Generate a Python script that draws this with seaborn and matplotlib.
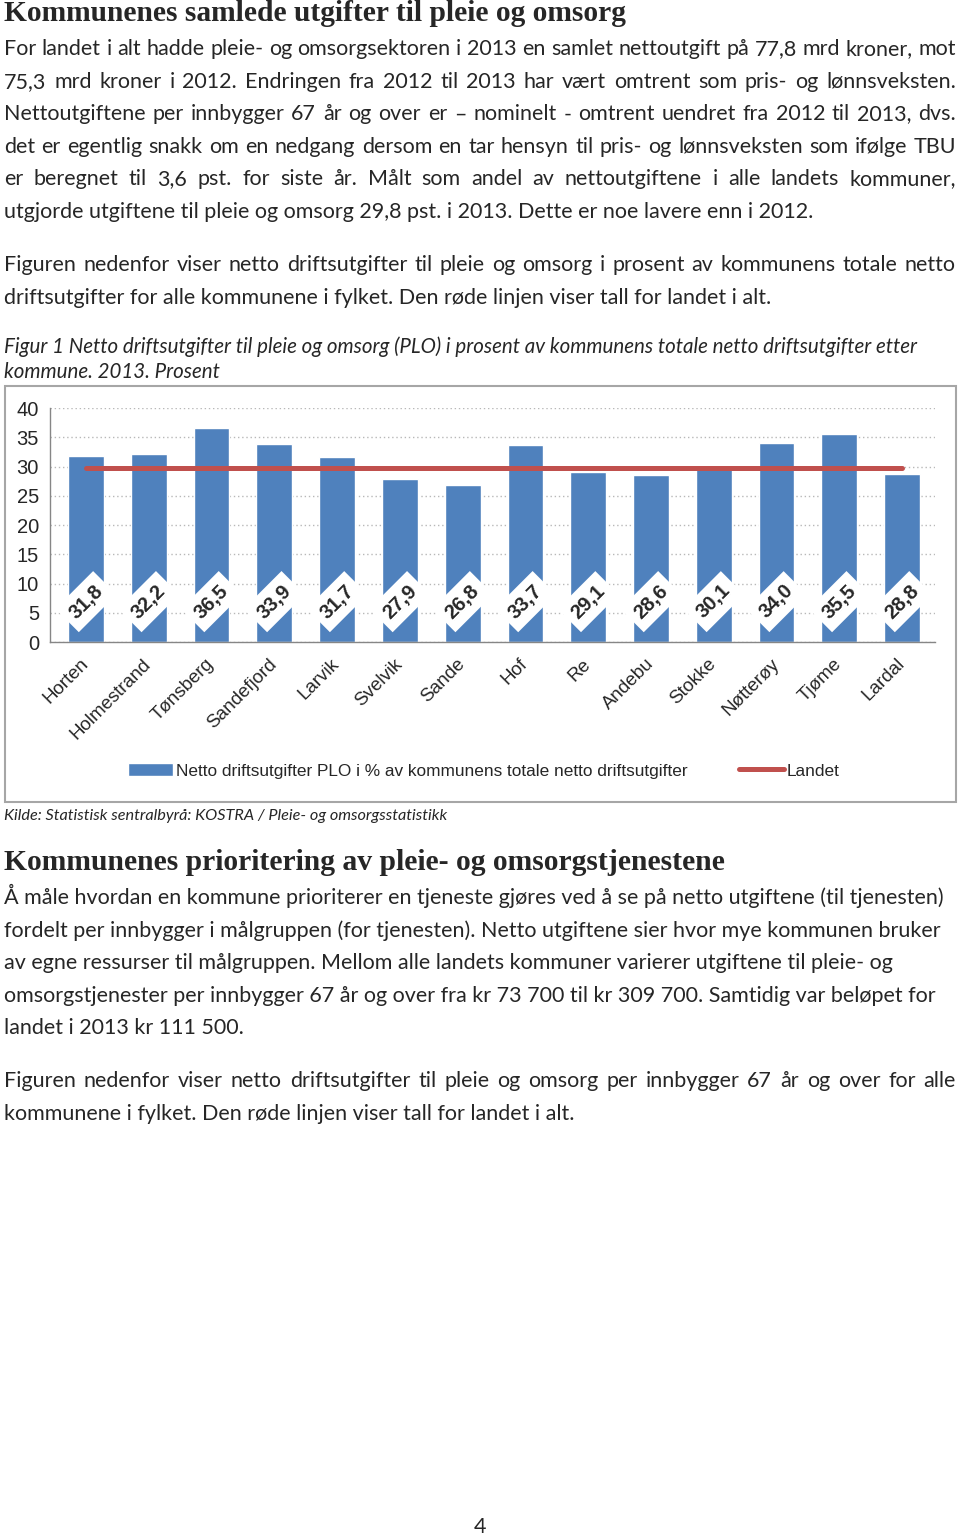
import numpy as np
import pandas as pd
import seaborn as sns
import matplotlib.pyplot as plt
from matplotlib.patches import Rectangle, Patch
from matplotlib.lines import Line2D

# chart data
kommuner = ['Horten', 'Holmestrand', 'Tønsberg', 'Sandefjord', 'Larvik', 'Svelvik', 'Sande',
            'Hof', 'Re', 'Andebu', 'Stokke', 'Nøtterøy', 'Tjøme', 'Lardal']
andel = [31.8, 32.2, 36.5, 33.9, 31.7, 27.9, 26.8, 33.7, 29.1, 28.6, 30.1, 34.0, 35.5, 28.8]
landet = [29.8] * len(kommuner)
y_ticks = [0, 5, 10, 15, 20, 25, 30, 35, 40]
bar_label = 'Netto driftsutgifter PLO i % av kommunens totale netto driftsutgifter'
line_label = 'Landet'

# page text
title1 = 'Kommunenes samlede utgifter til pleie og omsorg'
para1 = ['For landet i alt hadde pleie- og omsorgsektoren i 2013 en samlet nettoutgift på 77,8 mrd kroner, mot',
         '75,3 mrd kroner i 2012. Endringen fra 2012 til 2013 har vært omtrent som pris- og lønnsveksten.',
         'Nettoutgiftene per innbygger 67 år og over er – nominelt - omtrent uendret fra 2012 til 2013, dvs.',
         'det er egentlig snakk om en nedgang dersom en tar hensyn til pris- og lønnsveksten som ifølge TBU',
         'er beregnet til 3,6 pst. for siste år. Målt som andel av nettoutgiftene i alle landets kommuner,',
         'utgjorde utgiftene til pleie og omsorg 29,8 pst. i 2013. Dette er noe lavere enn i 2012.']
para2 = ['Figuren nedenfor viser netto driftsutgifter til pleie og omsorg i prosent av kommunens totale netto',
         'driftsutgifter for alle kommunene i fylket. Den røde linjen viser tall for landet i alt.']
caption = ['Figur 1 Netto driftsutgifter til pleie og omsorg (PLO) i prosent av kommunens totale netto driftsutgifter etter',
           'kommune. 2013. Prosent']
source = 'Kilde: Statistisk sentralbyrå: KOSTRA / Pleie- og omsorgsstatistikk'
title2 = 'Kommunenes prioritering av pleie- og omsorgstjenestene'
para3 = ['Å måle hvordan en kommune prioriterer en tjeneste gjøres ved å se på netto utgiftene (til tjenesten)',
         'fordelt per innbygger i målgruppen (for tjenesten). Netto utgiftene sier hvor mye kommunen bruker',
         'av egne ressurser til målgruppen. Mellom alle landets kommuner varierer utgiftene til pleie- og',
         'omsorgstjenester per innbygger 67 år og over fra kr 73 700 til kr 309 700. Samtidig var beløpet for',
         'landet i 2013 kr 111 500.']
para4 = ['Figuren nedenfor viser netto driftsutgifter til pleie og omsorg per innbygger 67 år og over for alle',
         'kommunene i fylket. Den røde linjen viser tall for landet i alt.']

BLUE = '#4F81BD'
RED = '#C0504D'
GREY = '#868686'
W, H = 960, 1537

sns.set_style('white')
BODY = ['Lato', 'DejaVu Sans']
HEAD = ['Liberation Serif', 'DejaVu Serif']
CHART = ['Liberation Sans', 'DejaVu Sans']

fig = plt.figure(figsize=(W / 100, H / 100), dpi=100)
renderer = fig.canvas.get_renderer()


def fit_size(text, target, **kw):
    t = fig.text(0, 0, text, fontsize=20, **kw)
    w = t.get_window_extent(renderer).width
    t.remove()
    return 20 * target / w


def line(y, text, size, justify=False, x0=4, x1=956, **kw):
    if not justify:
        fig.text(x0 / W, 1 - y / H, text, fontsize=size, va='baseline', **kw)
        return
    words = text.split(' ')
    items = [fig.text(0, 1 - y / H, w, fontsize=size, va='baseline', **kw) for w in words]
    widths = [t.get_window_extent(renderer).width for t in items]
    gap = (x1 - x0 - sum(widths)) / (len(words) - 1)
    x = x0
    for t, w in zip(items, widths):
        t.set_x(x / W)
        x += w + gap


body = fit_size(para3[0], 942, family=BODY)
cap = fit_size(caption[0], 916, family=BODY, style='italic')
src = fit_size(source, 443, family=BODY, style='italic')
h1 = fit_size(title1, 623, family=HEAD, weight='bold')
h2 = fit_size(title2, 723, family=HEAD, weight='bold')
leg = fit_size(bar_label, 510, family=CHART)

line(21, title1, h1, family=HEAD, weight='bold')
for i, s in enumerate(para1):
    line(55 + i * 32.6, s, body, justify=i < 5, family=BODY)
for i, s in enumerate(para2):
    line(271 + i * 32.6, s, body, justify=i == 0, family=BODY)
for i, s in enumerate(caption):
    line(353 + i * 25.5, s, cap, family=BODY, style='italic')
line(820, source, src, family=BODY, style='italic')
line(870, title2, h2, family=HEAD, weight='bold')
for i, s in enumerate(para3):
    line(904 + i * 32.6, s, body, family=BODY)
for i, s in enumerate(para4):
    line(1087 + i * 32.6, s, body, justify=i == 0, family=BODY)
fig.text(480 / W, 1 - 1527 / H, '4', fontsize=body, family=BODY, ha='center', va='center')

# chart frame
fig.add_artist(Rectangle((5 / W, 1 - 802 / H), 951 / W, 416 / H, transform=fig.transFigure,
                         fill=False, ec='#a6a6a6', lw=1.5))

df = pd.DataFrame({'kommune': kommuner, 'andel': andel, 'landet': landet})

ax = fig.add_axes([50 / W, 1 - 642 / H, 885 / W, 234 / H])
sns.barplot(data=df, x='kommune', y='andel', color=BLUE, saturation=1, width=0.57, ax=ax)
sns.lineplot(x=np.arange(len(kommuner)), y=df['landet'], color=RED, lw=3.6,
             solid_capstyle='round', ax=ax)

ax.set_xlim(-0.573, 13.525)
ax.set_ylim(0, 40)
ax.set_yticks(y_ticks)
ax.set_yticklabels([str(v) for v in y_ticks], family=CHART, fontsize=14.5)
ax.set_xticks(np.arange(len(kommuner)))
ax.set_xticklabels(kommuner, family=CHART, fontsize=13.5, rotation=45, ha='right',
                   va='center', rotation_mode='anchor')
ax.set_xticks(np.arange(len(kommuner) + 1) - 0.5, minor=True)
ax.tick_params(axis='x', which='major', length=0, pad=14)
ax.tick_params(axis='x', which='minor', length=5, color=GREY, direction='out')
ax.tick_params(axis='y', length=5, color=GREY, direction='out', pad=3)
ax.set_xlabel('')
ax.set_ylabel('')
ax.yaxis.grid(True, linestyle=(0, (1, 2)), color='#b8b8b8', lw=1)
ax.set_axisbelow(True)
for side in ['top', 'right']:
    ax.spines[side].set_visible(False)
for side in ['left', 'bottom']:
    ax.spines[side].set_color(GREY)
    ax.spines[side].set_linewidth(1)

for i, v in enumerate(andel):
    ax.text(i, 6.9, f'{v:.1f}'.replace('.', ','), rotation=45, rotation_mode='anchor',
            ha='center', va='center', fontsize=14.5, fontweight='bold', family=CHART,
            bbox=dict(boxstyle='square,pad=0.35', fc='white', ec='none'))

handles = [Patch(facecolor=BLUE), Line2D([0], [0], color=RED, lw=3.6)]
fig.legend(handles, [bar_label, line_label], ncol=2, loc='center',
           bbox_to_anchor=(484 / W, 1 - 771 / H), frameon=False,
           prop={'family': CHART, 'size': leg}, handlelength=2.6,
           handletextpad=0.15, columnspacing=3.0)

fig.savefig('out.png', dpi=100)
